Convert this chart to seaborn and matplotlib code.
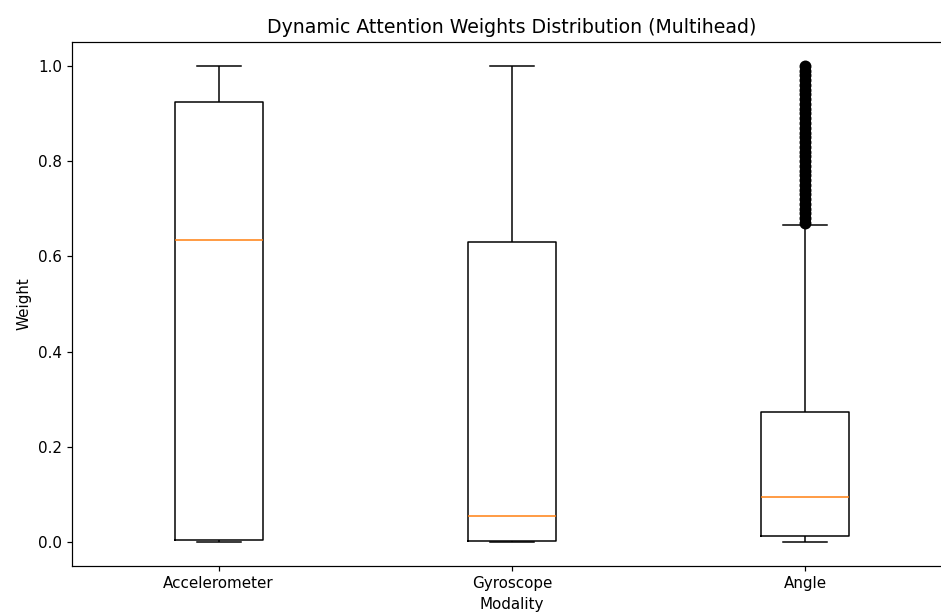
import matplotlib
matplotlib.use("Agg")
import matplotlib.pyplot as plt
import pandas as pd
import seaborn as sns

modalities = ["Accelerometer", "Gyroscope", "Angle"]

# Per-modality summary points: lower whisker, Q1, median, Q3, upper whisker
accelerometer_weights = [0.0, 0.005, 0.635, 0.924, 1.0]
gyroscope_weights = [0.0, 0.003, 0.055, 0.630, 1.0]
angle_weights = [0.0, 0.013, 0.095, 0.273, 0.666]

# Angle weights lying above the upper fence
angle_outliers = [0.67, 0.68, 0.69, 0.70, 0.71, 0.72, 0.73, 0.74, 0.75, 0.76,
                  0.77, 0.78, 0.79, 0.80, 0.81, 0.82, 0.83, 0.84, 0.85, 0.86,
                  0.87, 0.88, 0.89, 0.90, 0.91, 0.92, 0.93, 0.94, 0.95, 0.96,
                  0.97, 0.98, 0.99, 1.00]

box_df = pd.DataFrame({
    "Modality": (["Accelerometer"] * len(accelerometer_weights)
                 + ["Gyroscope"] * len(gyroscope_weights)
                 + ["Angle"] * len(angle_weights)),
    "Weight": accelerometer_weights + gyroscope_weights + angle_weights,
})
outlier_df = pd.DataFrame({
    "Modality": ["Angle"] * len(angle_outliers),
    "Weight": angle_outliers,
})

s = 1.09
plt.rcParams.update({
    "font.family": "DejaVu Sans",
    "font.size": 10 * s,
    "axes.linewidth": 0.8 * s,
    "xtick.major.width": 0.8 * s,
    "ytick.major.width": 0.8 * s,
    "xtick.major.size": 3.5 * s,
    "ytick.major.size": 3.5 * s,
})

fig = plt.figure(figsize=(9.41, 6.13), dpi=100)
ax = fig.add_axes([72 / 941, (613 - 566) / 613, 880 / 941, (566 - 42) / 613])

sns.boxplot(
    data=box_df, x="Modality", y="Weight", order=modalities, ax=ax,
    fill=False, width=0.3, whis=(0, 100), showfliers=False,
    color="black", linecolor="black", linewidth=1.0 * s,
    medianprops=dict(color="#ff7f0e", linewidth=1.0 * s),
)
sns.stripplot(
    data=outlier_df, x="Modality", y="Weight", order=modalities, ax=ax,
    jitter=False, color="black", size=8.6, linewidth=0,
)

ax.set_xlim(-0.5, 2.5)
ax.set_ylim(-0.05, 1.05)
ax.set_yticks([0.0, 0.2, 0.4, 0.6, 0.8, 1.0])
ax.set_title("Dynamic Attention Weights Distribution (Multihead)",
             fontsize=13.6, pad=6 * s)
ax.set_xlabel("Modality", fontsize=10 * s, labelpad=4 * s)
ax.set_ylabel("Weight", fontsize=10 * s, labelpad=4 * s)
# The frame's right side falls just past the canvas edge
ax.spines["right"].set_visible(False)

fig.savefig("out.png", dpi=100)
